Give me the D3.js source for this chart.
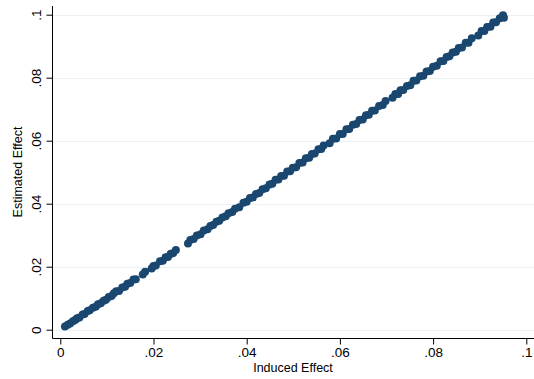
<!DOCTYPE html>
<html><head><meta charset="utf-8">
<script src="https://cdn.jsdelivr.net/npm/d3@7"></script>
<style>body{margin:0;background:#fff}svg{display:block}text{font-family:"Liberation Sans",Arial,sans-serif;fill:#000}</style>
</head><body>
<svg id="c" width="534" height="379"></svg>
<script>
// Induced effect (x) and estimated effect (y), in thousandths
const induced = [1.0,1.6,2.1,2.7,3.2,3.6,4.1,4.8,5.2,5.9,6.3,7.0,7.6,8.1,8.7,9.3,9.8,10.4,11.0,11.5,12.0,12.6,13.3,13.9,14.4,15.0,15.7,16.2,17.7,18.2,19.6,20.0,20.5,21.4,22.0,22.6,23.1,23.7,24.2,24.8,27.4,27.9,28.6,29.3,30.1,30.8,31.6,32.2,32.8,33.5,34.1,34.8,35.5,36.1,36.9,37.5,38.4,39.3,40.0,40.7,41.3,42.0,42.7,43.4,44.1,44.9,45.5,46.2,46.8,47.4,48.0,48.7,49.3,49.9,50.6,51.3,52.0,52.7,53.4,54.0,54.6,55.4,56.0,56.5,57.8,58.5,59.2,60.0,60.6,61.4,62.0,62.8,63.5,64.2,64.9,65.6,66.2,66.9,67.5,68.4,69.2,69.8,71.3,71.9,72.5,73.0,73.6,74.4,75.1,75.8,76.4,77.2,77.9,78.6,79.3,80.0,80.8,81.6,82.2,82.9,83.5,84.2,84.9,85.5,86.2,87.0,87.6,88.3,89.7,90.4,91.0,91.6,92.3,92.9,93.5,94.3,95.0,95.2];
const estimated = [1.0,1.6,2.0,2.7,3.1,3.6,3.9,4.8,5.0,5.9,6.2,7.0,7.3,8.1,8.4,9.2,9.5,10.4,10.7,11.6,12.2,12.3,13.4,13.6,14.6,14.8,15.9,16.0,17.5,18.4,19.4,20.2,20.4,21.7,21.9,23.0,23.1,24.1,24.3,25.3,27.4,28.5,28.8,29.9,30.3,31.5,31.9,32.9,33.2,34.3,34.6,35.6,36.0,37.0,37.4,38.4,38.9,40.3,40.6,41.8,42.0,43.1,43.4,44.6,44.9,46.1,46.3,47.6,47.7,48.8,48.9,50.2,50.3,51.4,51.6,52.9,53.1,54.4,54.6,55.8,55.9,57.3,57.4,58.5,59.2,60.6,60.7,62.1,62.1,63.6,63.7,65.1,65.3,66.6,66.7,68.1,68.2,69.5,69.6,71.0,71.3,72.6,73.6,74.8,74.8,76.0,76.1,77.4,77.6,79.0,79.1,80.5,80.6,82.0,82.1,83.5,83.8,85.2,85.3,86.6,86.8,88.0,88.2,89.4,89.6,91.1,91.1,92.5,93.4,94.8,94.8,96.1,96.2,97.5,97.6,98.9,99.8,99.0];
const xTicks = [0, 0.02, 0.04, 0.06, 0.08, 0.1];
const xTickLabels = ["0", ".02", ".04", ".06", ".08", ".1"];
const yTicks = [0, 0.02, 0.04, 0.06, 0.08, 0.1];
const yTickLabels = ["0", ".02", ".04", ".06", ".08", ".1"];
const xTitle = "Induced Effect";
const yTitle = "Estimated Effect";

const data = induced.map((v, i) => ({x: v / 1000, y: estimated[i] / 1000}));

const svg = d3.select("#c");
const axL = 52.5, axB = 338.5, axT = 6, axR = 534;
const x = d3.scaleLinear().domain([0, 0.1]).range([60.3, 526.3]);
const y = d3.scaleLinear().domain([0, 0.1]).range([329.7, 14.7]);

// gridlines
svg.append("g").selectAll("line").data(yTicks).join("line")
  .attr("x1", axL).attr("x2", axR)
  .attr("y1", d => Math.round(y(d)) + 0.5).attr("y2", d => Math.round(y(d)) + 0.5)
  .attr("stroke", "#eaf1f3").attr("stroke-width", 1.2);

// points
svg.append("g").selectAll("circle").data(data).join("circle")
  .attr("cx", d => x(d.x)).attr("cy", d => y(d.y)).attr("r", 4)
  .attr("fill", "#1a476f");

// x axis
const gx = svg.append("g").attr("transform", `translate(0,${axB})`);
gx.call(d3.axisBottom(x).tickValues(xTicks).tickFormat((d, i) => xTickLabels[i]).tickSize(6).tickPadding(3).tickSizeOuter(0));
gx.select(".domain").attr("d", `M${axL},0H${axR}`).attr("stroke", "#000");
gx.selectAll("text").attr("font-size", 13.5).attr("font-family", "Liberation Sans, Arial, sans-serif").attr("fill", "#000");

// y axis
const gy = svg.append("g").attr("transform", `translate(${axL},0)`);
gy.call(d3.axisLeft(y).tickValues(yTicks).tickFormat((d, i) => yTickLabels[i]).tickSize(6).tickPadding(0).tickSizeOuter(0));
gy.select(".domain").attr("d", `M0,${axT}V${axB}`).attr("stroke", "#000");
gy.selectAll(".tick text").attr("font-size", 13.5).attr("font-family", "Liberation Sans, Arial, sans-serif").attr("fill", "#000")
  .attr("x", null).attr("dy", null)
  .attr("text-anchor", "middle")
  .attr("transform", "translate(-12,0) rotate(-90)");

// titles
svg.append("text").attr("x", 293).attr("y", 372).attr("text-anchor", "middle")
  .attr("font-size", 12.5).text(xTitle);
svg.append("text").attr("transform", "translate(22,172) rotate(-90)").attr("text-anchor", "middle")
  .attr("font-size", 12.5).text(yTitle);
</script>
</body></html>
